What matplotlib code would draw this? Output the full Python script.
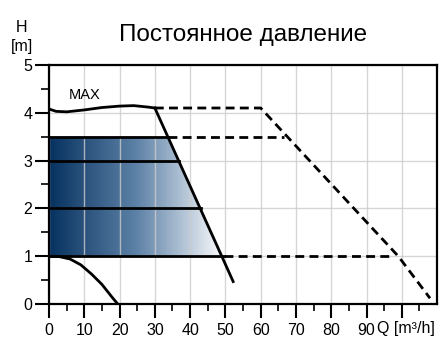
import numpy as np
import matplotlib.pyplot as plt
from matplotlib.colors import LinearSegmentedColormap
from matplotlib.patches import Polygon

plt.rcParams['font.family'] = ['Liberation Sans', 'DejaVu Sans']

# MAX curve (Q, H)
max_q = [0, 2, 5, 10, 15, 20, 24, 28, 30]
max_h = [4.08, 4.03, 4.02, 4.06, 4.11, 4.14, 4.15, 4.12, 4.1]
# steep limit line
steep_q = [30, 52.2]
steep_h = [4.1, 0.47]
# constant pressure levels and where they end on the steep line
levels = [3.5, 3.0, 2.0, 1.0]
level_end = [33.7, 36.9, 43.2, 49.6]
# dashed extensions
dash_top_q = [30, 60, 99, 108]
dash_top_h = [4.1, 4.1, 1.0, 0.12]
dash_35_q = [33.7, 66.5]
dash_35_h = [3.5, 3.5]
dash_1_q = [49.6, 97.5]
dash_1_h = [1.0, 1.0]
# min curve
min_q = [0, 3, 6, 9, 12, 15, 18, 19.5]
min_h = [1.0, 0.99, 0.94, 0.82, 0.63, 0.41, 0.13, 0.0]

xticks = [0, 10, 20, 30, 40, 50, 60, 70, 80, 90, 100]
xlabels = ['0', '10', '20', '30', '40', '50', '60', '70', '80', '90', '']

fig = plt.figure(figsize=(4.46, 3.49), dpi=100)
ax = fig.add_axes([0.1099, 0.1289, 0.8701, 0.6849])
ax.set_xlim(0, 110)
ax.set_ylim(0, 5)

# gradient area
poly = [(0, 1.0), (level_end[3], 1.0), (level_end[0], 3.5), (0, 3.5)]
patch = Polygon(poly, closed=True, facecolor='none', edgecolor='none')
ax.add_patch(patch)
cmap = LinearSegmentedColormap.from_list('g', ['#06315f', '#5f83a8', '#ffffff'])
grad = np.linspace(0, 1, 256).reshape(1, -1)
im = ax.imshow(grad, extent=[0, 50, 1.0, 3.5], aspect='auto', cmap=cmap,
               origin='lower', zorder=1)
im.set_clip_path(patch)

ax.set_xticks(xticks)
ax.set_xticklabels(xlabels)
ax.set_xticks(np.arange(5, 110, 10), minor=True)
ax.set_yticks([0, 1, 2, 3, 4, 5])
ax.set_yticks(np.arange(0.5, 5, 1), minor=True)
ax.grid(True, which='major', color='#cccccc', lw=1.0, alpha=0.8)
for gl in ax.get_xgridlines() + ax.get_ygridlines():
    gl.set_zorder(2)

lw = 2.0
ax.plot(max_q, max_h, color='black', lw=lw, zorder=4)
ax.plot(steep_q, steep_h, color='black', lw=lw, zorder=4)
for h, e in zip(levels, level_end):
    ax.plot([0, e], [h, h], color='black', lw=lw, zorder=4)
for q, h in [(dash_top_q, dash_top_h), (dash_35_q, dash_35_h), (dash_1_q, dash_1_h)]:
    ax.plot(q, h, color='black', lw=lw, ls=(0, (3.2, 1.9)), zorder=4)
ax.plot(min_q, min_h, color='black', lw=lw, zorder=4)

ax.text(5.5, 4.22, 'MAX', fontsize=10.5, ha='left', va='bottom')
ax.set_title('Постоянное давление', fontsize=17.5, pad=17)
fig.text(0.049, 1 - 28 / 349, 'H', fontsize=11.5, ha='center', va='center')
fig.text(0.049, 1 - 46 / 349, '[m]', fontsize=11.5, ha='center', va='center')

for s in ax.spines.values():
    s.set_linewidth(1.6)
    s.set_zorder(5)
ax.tick_params(which='major', length=10, width=1.5, labelsize=11.5, direction='out', pad=2)
ax.tick_params(which='minor', length=5, width=1.2, direction='out')
ax.tick_params(axis='y', which='minor', length=6)
ax.tick_params(axis='x', pad=4)
ax.text(93.0, -0.52, 'Q [m³/h]', fontsize=11.5, ha='left', va='center')

fig.savefig('out.png', dpi=100)
